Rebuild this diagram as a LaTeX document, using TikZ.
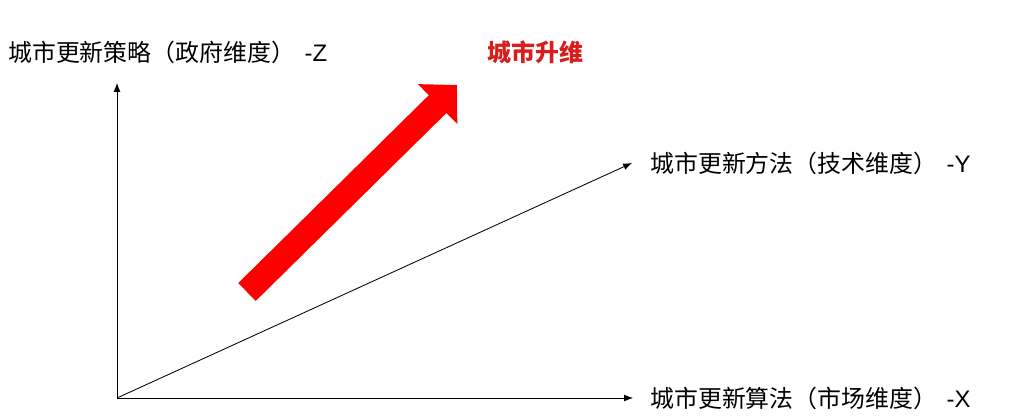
\documentclass[tikz,border=0pt]{standalone}
\usepackage{fontspec}
\setmainfont{Noto Sans CJK SC}
\newfontfamily\axisletter{Liberation Sans}
\usetikzlibrary{arrows.meta}
\definecolor{uptext}{RGB}{218,28,28}
\definecolor{upfill}{RGB}{255,0,0}

\begin{document}
\begin{tikzpicture}[x=0.025cm,y=-0.025cm,>={Latex[length=0.22cm,width=0.17cm]},
    axis/.style={->,line width=0.6pt,black},
    axislabel/.style={anchor=west,inner sep=0pt,font=\fontsize{17}{20}\selectfont},
    upgrade/.style={upfill,line width=0.625cm,-{Triangle[length=0.68cm,width=1.36cm]}}]
   \useasboundingbox (0,0) rectangle (1020,418);
   \coordinate (O) at (117,398);
   \coordinate (Xend) at (633,398);
   \coordinate (Yend) at (632,163);
   \coordinate (Zend) at (117,83);
   \draw[axis] (O) -- (Xend);
   \draw[axis] (O) -- (Yend);
   \draw[axis] (O) -- (Zend);
   \node[axislabel] (xlab) at (650,398) {城市更新算法（市场维度）\hspace{0.4em}{\axisletter -X}};
   \node[axislabel] (ylab) at (650,163) {城市更新方法（技术维度）\hspace{0.4em}{\axisletter -Y}};
   \node[axislabel] (zlab) at (8,52) {城市更新策略（政府维度）\hspace{0.4em}{\axisletter -Z}};
   % upgrade arrow
   \coordinate (uptail) at (247,292);
   \coordinate (uptip) at (457,85);
   \draw[upgrade] (uptail) -- (uptip);
   \node[axislabel,text=uptext,font=\fontsize{17}{20}\selectfont\bfseries] (uplab) at (487,52) {城市升维};
\end{tikzpicture}
\end{document}
